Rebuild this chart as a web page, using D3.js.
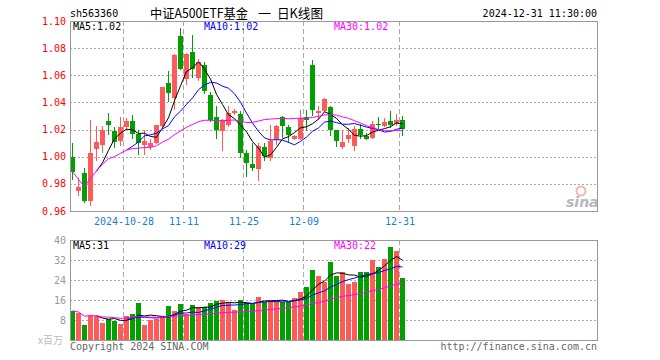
<!DOCTYPE html>
<html><head><meta charset="utf-8">
<script src="https://cdn.jsdelivr.net/npm/d3@7/dist/d3.min.js"></script>
<style>body{margin:0;background:#fff}svg{display:block}</style>
</head><body>
<svg id="c" width="660" height="360"></svg>
<script>
const dates = ["2024-10-15","2024-10-16","2024-10-17","2024-10-18","2024-10-21","2024-10-22","2024-10-23","2024-10-24","2024-10-25","2024-10-28",
"2024-10-29","2024-10-30","2024-10-31","2024-11-01","2024-11-04","2024-11-05","2024-11-06","2024-11-07","2024-11-08","2024-11-11",
"2024-11-12","2024-11-13","2024-11-14","2024-11-15","2024-11-18","2024-11-19","2024-11-20","2024-11-21","2024-11-22","2024-11-25",
"2024-11-26","2024-11-27","2024-11-28","2024-11-29","2024-12-02","2024-12-03","2024-12-04","2024-12-05","2024-12-06","2024-12-09",
"2024-12-10","2024-12-11","2024-12-12","2024-12-13","2024-12-16","2024-12-17","2024-12-18","2024-12-19","2024-12-20","2024-12-23",
"2024-12-24","2024-12-25","2024-12-26","2024-12-27","2024-12-30","2024-12-31"];
const openP  = [1.000,0.975,0.988,0.9675,1.006,1.0086,1.026,1.0189,1.0118,1.0221,1.0263,1.0167,1.0086,1.0069,1.0101,1.023,1.0543,1.0432,1.089,1.0575,1.077,1.058,1.0677,1.0457,1.0293,1.0188,1.0237,1.0322,1.0315,1.0029,0.9943,0.9906,1.007,0.9992,1.0127,1.0293,1.0217,1.0127,1.0127,1.0293,1.0677,1.0322,1.0334,1.0366,1.0195,1.0073,1.0131,1.0082,1.0205,1.0151,1.0139,1.0241,1.0229,1.0266,1.0244,1.0273];
const highP  = [1.010,0.984,0.992,1.027,1.023,1.0224,1.0325,1.0221,1.0294,1.0287,1.031,1.0196,1.0196,1.013,1.0235,1.0516,1.0628,1.0755,1.095,1.0765,1.0898,1.072,1.070,1.048,1.0377,1.0275,1.0371,1.035,1.0339,1.0053,1.0102,1.0102,1.0102,1.0232,1.0237,1.0303,1.0237,1.016,1.0347,1.0347,1.0709,1.0376,1.0435,1.0376,1.0195,1.020,1.0212,1.0224,1.0241,1.0175,1.0266,1.0293,1.0286,1.0339,1.0317,1.0303];
const lowP   = [0.983,0.971,0.966,0.964,0.997,1.003,1.016,1.0061,1.008,1.020,1.0127,1.0015,1.0015,1.0052,1.0095,1.021,1.040,1.0347,1.064,1.053,1.058,1.056,1.046,1.0254,1.0127,1.0041,1.022,1.031,0.9992,0.985,0.9894,0.9821,0.9972,0.997,1.009,1.0139,1.0102,1.012,1.012,1.0188,1.0303,1.0273,1.033,1.0156,1.0073,1.006,1.0102,1.0041,1.013,1.0122,1.013,1.020,1.022,1.0212,1.023,1.0156];
const closeP = [0.989,0.9775,0.9675,1.0024,1.011,1.0195,1.0232,1.0105,1.0221,1.0263,1.0167,1.0101,1.0115,1.0101,1.0233,1.0514,1.0469,1.075,1.0645,1.076,1.0645,1.070,1.0482,1.0274,1.0196,1.0273,1.0322,1.0339,1.0029,0.9955,0.9914,1.0082,1.0004,1.0114,1.0229,1.0229,1.0163,1.0156,1.0286,1.0268,1.0342,1.0334,1.0425,1.0195,1.0114,1.0112,1.0163,1.0205,1.0163,1.0134,1.0241,1.0236,1.0259,1.0236,1.0273,1.0205];
const volume = [11.7,10.7,6.2,10.2,9.7,7.0,8.5,7.5,6.6,9.8,10.6,15.0,6.2,8.2,8.5,9.1,13.8,11.7,14.6,10.3,14.2,13.4,13.1,15.0,15.8,16.2,15.1,12.2,16.2,15.0,14.5,17.4,15.1,16.2,15.8,15.1,15.1,16.7,19.4,21.1,28.2,25.8,23.4,31.4,25.5,27.4,22.5,23.1,27.1,27.4,32.2,29.1,32.6,37.4,35.8,24.7];
const priceTicks = [0.96,0.98,1.00,1.02,1.04,1.06,1.08,1.10];
const volTicks = [8,16,24,32,40];
const dateTicks = ["2024-10-28","2024-11-11","2024-11-25","2024-12-09","2024-12-31"];
const maPeriods = [5,10,30];
const maLabelsPrice = ["MA5:1.02","MA10:1.02","MA30:1.02"];
const maLabelsVol = ["MA5:31","MA10:29","MA30:22"];
const titleParts = ["中证A500ETF基金","一","日K线图"];

const n = dates.length;
const svg = d3.select("#c");
const MONO = "'DejaVu Sans Mono','Liberation Mono',monospace";
const CJK = "'Noto Sans CJK SC',sans-serif";
const RED = "#ff5a5a", GREEN = "#00a000";
const maColors = ["#000000","#0000ff","#ff00ff"];
const L = 70, Rt = 598;
const pTop = 21, pBot = 211, vTop = 240, vBot = 340;

const x = d3.scaleBand().domain(d3.range(n)).range([L, L + 6*n - 1]).paddingInner(1/6).paddingOuter(0);
const y = d3.scaleLinear().domain([0.96, 1.10]).range([pBot, pTop]);
const yv = d3.scaleLinear().domain([0, 40]).range([vBot, vTop]);
const px = v => Math.round(v) + 0.5;

function ma(arr, k) {
  return arr.map((v, i) => i >= k - 1 ? d3.mean(arr.slice(i - k + 1, i + 1)) : (k === 30 ? d3.mean(arr.slice(0, i + 1)) : null));
}

// header
svg.append("text").attr("x", 70).attr("y", 17).attr("font-family", MONO).attr("font-size", 10).attr("fill", "#000").text("sh563360");
const titleX = [150, 258, 277];
const titleW = [98, null, 46];
titleParts.forEach((t, j) => {
  const tt = svg.append("text").attr("x", titleX[j]).attr("y", 18).attr("font-family", CJK).attr("font-size", 13).attr("fill", "#000").text(t);
  if (titleW[j]) tt.attr("textLength", titleW[j]).attr("lengthAdjust", "spacingAndGlyphs");
});
svg.append("text").attr("x", 597).attr("y", 17).attr("text-anchor", "end").attr("font-family", MONO).attr("font-size", 10).attr("fill", "#000").text("2024-12-31 11:30:00");

// grids
const tickIdx = dateTicks.map(d => dates.indexOf(d));
function vgrid(top, bot) {
  svg.append("g").selectAll("line").data(tickIdx).join("line")
    .attr("x1", i => px(x(i)) - 1).attr("x2", i => px(x(i)) - 1)
    .attr("y1", top).attr("y2", bot)
    .attr("stroke", "#aaa").attr("stroke-dasharray", "5,3");
}
vgrid(pTop, pBot); vgrid(vTop, vBot);
svg.append("g").selectAll("line").data(priceTicks.slice(1, -1)).join("line")
  .attr("x1", L).attr("x2", Rt).attr("y1", d => px(y(d))).attr("y2", d => px(y(d)))
  .attr("stroke", "#aaa").attr("stroke-dasharray", "2,2");
svg.append("g").selectAll("line").data(volTicks.slice(0, -1)).join("line")
  .attr("x1", L).attr("x2", Rt).attr("y1", d => px(yv(d))).attr("y2", d => px(yv(d)))
  .attr("stroke", "#aaa").attr("stroke-dasharray", "2,2");

// price axis labels
svg.append("g").selectAll("text").data(priceTicks).join("text")
  .attr("x", 66).attr("y", d => y(d) + 3.5).attr("text-anchor", "end")
  .attr("font-family", MONO).attr("font-size", 10).attr("fill", "#ff0000")
  .text(d => d.toFixed(2));
// volume axis labels
svg.append("g").selectAll("text").data(volTicks).join("text")
  .attr("x", 66).attr("y", d => yv(d) + 3.5).attr("text-anchor", "end")
  .attr("font-family", MONO).attr("font-size", 10).attr("fill", "#999")
  .text(d => d);
svg.append("text").attr("x", 63).attr("y", 344).attr("text-anchor", "end").attr("font-family", CJK).attr("font-size", 10).attr("fill", "#bbb").text("x百万");

// date labels
svg.append("g").selectAll("text").data(tickIdx).join("text")
  .attr("x", i => x(i)).attr("y", 225).attr("text-anchor", "middle")
  .attr("font-family", MONO).attr("font-size", 10).attr("fill", "#1a7fd0")
  .text((i, k) => k === 0 ? dates[i] : dates[i].slice(5));

// sina watermark
const wm = svg.append("g");
wm.append("circle").attr("cx", 581).attr("cy", 191).attr("r", 4.5).attr("fill", "none").attr("stroke", "#f4b4b4").attr("stroke-width", 2);
wm.append("text").attr("x", 566).attr("y", 207).attr("font-family", "'DejaVu Sans',sans-serif").attr("font-style", "italic").attr("font-weight", "bold").attr("font-size", 14).attr("fill", "#b8b8b8").text("sina");

// candles
const idx = d3.range(n);
const up = i => closeP[i] >= openP[i];
const cg = svg.append("g").attr("shape-rendering", "crispEdges");
cg.selectAll("line").data(idx).join("line")
  .attr("x1", i => x(i) + 2.5).attr("x2", i => x(i) + 2.5)
  .attr("y1", i => Math.round(y(highP[i]))).attr("y2", i => Math.round(y(lowP[i])))
  .attr("stroke", i => up(i) ? RED : GREEN).attr("stroke-width", 1);
cg.selectAll("rect").data(idx).join("rect")
  .attr("x", i => x(i)).attr("width", x.bandwidth())
  .attr("y", i => Math.round(y(Math.max(openP[i], closeP[i]))))
  .attr("height", i => Math.max(1, Math.round(y(Math.min(openP[i], closeP[i]))) - Math.round(y(Math.max(openP[i], closeP[i])))))
  .attr("fill", i => up(i) ? RED : GREEN);

// volume bars
svg.append("g").attr("shape-rendering", "crispEdges").selectAll("rect").data(idx).join("rect")
  .attr("x", i => x(i)).attr("width", x.bandwidth())
  .attr("y", i => Math.round(yv(volume[i]))).attr("height", i => vBot - Math.round(yv(volume[i])))
  .attr("fill", i => up(i) ? RED : GREEN);

// MA lines
maPeriods.forEach((k, j) => {
  const line = d3.line().defined(d => d != null).x((d, i) => x(i) + 2.5);
  svg.append("path").datum(ma(closeP, k)).attr("fill", "none").attr("stroke", maColors[j]).attr("stroke-width", 1)
    .attr("d", line.y(d => y(d)));
  const line2 = d3.line().defined(d => d != null).x((d, i) => x(i) + 2.5);
  svg.append("path").datum(ma(volume, k)).attr("fill", "none").attr("stroke", maColors[j]).attr("stroke-width", 1)
    .attr("d", line2.y(d => yv(d)));
});

// MA labels
const labX = [73, 204, 334];
maLabelsPrice.forEach((t, j) => svg.append("text").attr("x", labX[j]).attr("y", 30).attr("font-family", MONO).attr("font-size", 10).attr("fill", maColors[j]).text(t));
maLabelsVol.forEach((t, j) => svg.append("text").attr("x", labX[j]).attr("y", 249).attr("font-family", MONO).attr("font-size", 10).attr("fill", maColors[j]).text(t));

// borders
svg.append("rect").attr("x", L + 0.5).attr("y", pTop + 0.5).attr("width", Rt - L - 1).attr("height", pBot - pTop).attr("fill", "none").attr("stroke", "#999");
svg.append("rect").attr("x", L + 0.5).attr("y", vTop + 0.5).attr("width", Rt - L - 1).attr("height", vBot - vTop).attr("fill", "none").attr("stroke", "#999");

// footer
svg.append("text").attr("x", 70).attr("y", 350).attr("font-family", MONO).attr("font-size", 10).attr("fill", "#666").text("Copyright 2024 SINA.COM");
svg.append("text").attr("x", 597).attr("y", 350).attr("text-anchor", "end").attr("font-family", MONO).attr("font-size", 10).attr("fill", "#666").text("http://finance.sina.com.cn");
</script>
</body></html>
